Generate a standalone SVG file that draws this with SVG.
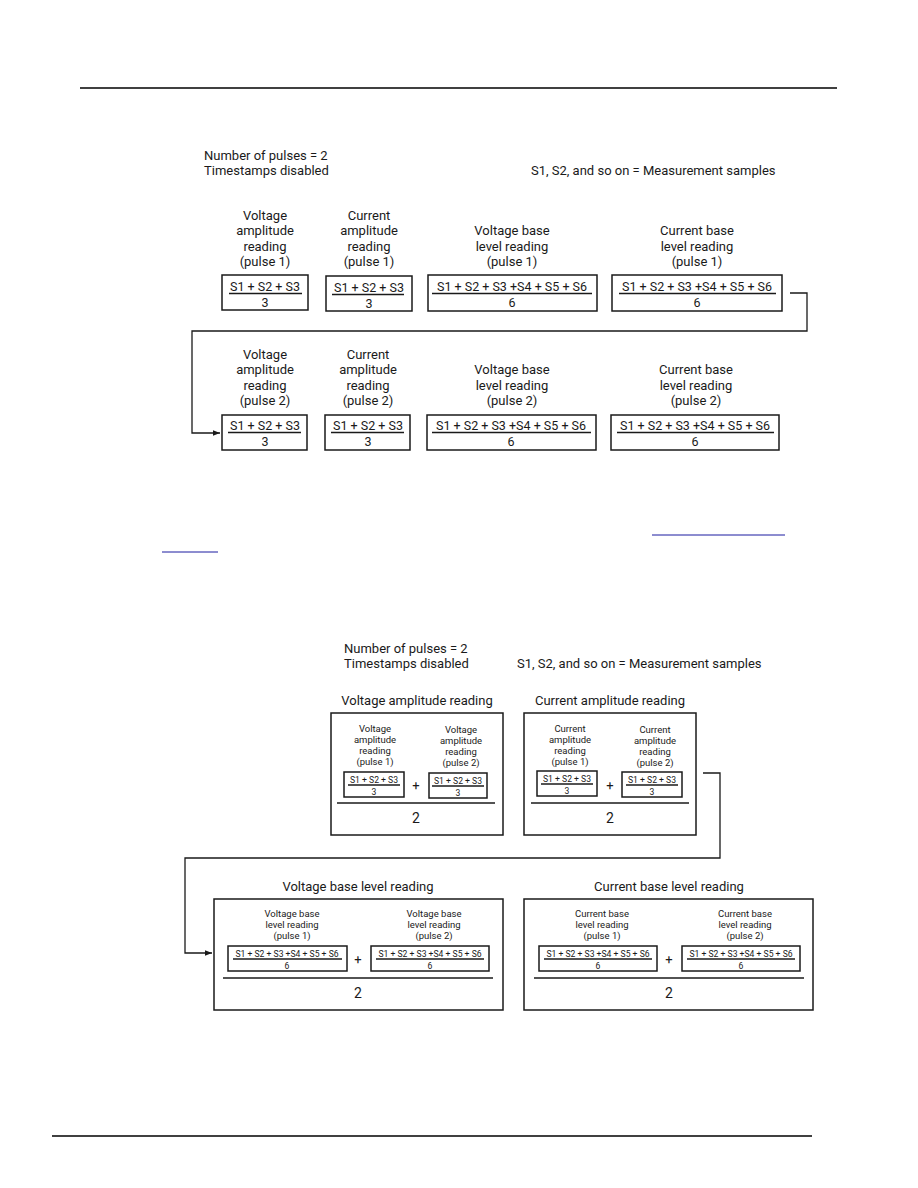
<svg xmlns="http://www.w3.org/2000/svg" width="918" height="1188" viewBox="0 0 918 1188">
<style>
text{font-family:Roboto,"Liberation Sans",sans-serif;fill:#1a1a1a;text-anchor:middle}
.l{font-size:13px}
.s{text-anchor:start}
.f{font-size:12.5px}
.sm{font-size:9.5px}
.fs{font-size:8.6px}
.big{font-size:14px}
.box{fill:none;stroke:#1a1a1a;stroke-width:1.5}
.fl{stroke:#1a1a1a;stroke-width:1.3}
.wire{fill:none;stroke:#1a1a1a;stroke-width:1.3}
</style>
<defs>
<marker id="ah" viewBox="0 0 10 10" refX="10" refY="5" markerWidth="7" markerHeight="7" markerUnits="userSpaceOnUse" orient="auto">
<path d="M0,1 L10,5 L0,9 z" fill="#1a1a1a"/>
</marker>
</defs>
<line x1="80" y1="88" x2="837" y2="88" stroke="#000" stroke-width="1.5"/>
<line x1="52" y1="1136" x2="812" y2="1136" stroke="#000" stroke-width="1.5"/>
<line x1="652" y1="535" x2="785" y2="535" stroke="#1a1aa0" stroke-width="1"/>
<line x1="162" y1="552" x2="218" y2="552" stroke="#1a1aa0" stroke-width="1"/>

<g id="top-notes">
<text class="l s" x="204" y="160">Number of pulses = 2</text>
<text class="l s" x="204" y="175">Timestamps disabled</text>
<text class="l s" x="531" y="175">S1, S2, and so on = Measurement samples</text>
</g>

<g id="v-amp-p1">
<text class="l" x="265" y="220">Voltage</text>
<text class="l" x="265" y="235">amplitude</text>
<text class="l" x="265" y="251">reading</text>
<text class="l" x="265" y="266">(pulse 1)</text>
<rect class="box" x="222" y="275" width="86" height="35"/>
<text class="f" x="265" y="291">S1 + S2 + S3</text>
<line class="fl" x1="229" y1="293.5" x2="302" y2="293.5"/>
<text class="f" x="265" y="307">3</text>
</g>
<g id="c-amp-p1">
<text class="l" x="369" y="220">Current</text>
<text class="l" x="369" y="235">amplitude</text>
<text class="l" x="369" y="251">reading</text>
<text class="l" x="369" y="266">(pulse 1)</text>
<rect class="box" x="326" y="276" width="86" height="35"/>
<text class="f" x="369" y="292">S1 + S2 + S3</text>
<line class="fl" x1="332" y1="294.5" x2="404" y2="294.5"/>
<text class="f" x="369" y="308">3</text>
</g>
<g id="v-base-p1">
<text class="l" x="512" y="235">Voltage base</text>
<text class="l" x="512" y="251">level reading</text>
<text class="l" x="512" y="266">(pulse 1)</text>
<rect class="box" x="428" y="275" width="169" height="36"/>
<text class="f" x="512" y="291">S1 + S2 + S3 +S4 + S5 + S6</text>
<line class="fl" x1="432" y1="293.5" x2="592" y2="293.5"/>
<text class="f" x="512" y="307">6</text>
</g>
<g id="c-base-p1">
<text class="l" x="697" y="235">Current base</text>
<text class="l" x="697" y="251">level reading</text>
<text class="l" x="697" y="266">(pulse 1)</text>
<rect class="box" x="612" y="275" width="170" height="36"/>
<text class="f" x="697" y="291">S1 + S2 + S3 +S4 + S5 + S6</text>
<line class="fl" x1="619" y1="293.5" x2="776" y2="293.5"/>
<text class="f" x="697" y="307">6</text>
</g>

<g id="v-amp-p2">
<text class="l" x="265" y="359">Voltage</text>
<text class="l" x="265" y="374">amplitude</text>
<text class="l" x="265" y="390">reading</text>
<text class="l" x="265" y="405">(pulse 2)</text>
<rect class="box" x="222" y="415" width="85" height="35"/>
<text class="f" x="265" y="430">S1 + S2 + S3</text>
<line class="fl" x1="228" y1="432.5" x2="301" y2="432.5"/>
<text class="f" x="265" y="446">3</text>
</g>
<g id="c-amp-p2">
<text class="l" x="368" y="359">Current</text>
<text class="l" x="368" y="374">amplitude</text>
<text class="l" x="368" y="390">reading</text>
<text class="l" x="368" y="405">(pulse 2)</text>
<rect class="box" x="325" y="415" width="85" height="35"/>
<text class="f" x="368" y="430">S1 + S2 + S3</text>
<line class="fl" x1="331" y1="432.5" x2="404" y2="432.5"/>
<text class="f" x="368" y="446">3</text>
</g>
<g id="v-base-p2">
<text class="l" x="512" y="374">Voltage base</text>
<text class="l" x="512" y="390">level reading</text>
<text class="l" x="512" y="405">(pulse 2)</text>
<rect class="box" x="427" y="415" width="169" height="35"/>
<text class="f" x="511" y="430">S1 + S2 + S3 +S4 + S5 + S6</text>
<line class="fl" x1="432" y1="432.5" x2="591" y2="432.5"/>
<text class="f" x="511" y="446">6</text>
</g>
<g id="c-base-p2">
<text class="l" x="696" y="374">Current base</text>
<text class="l" x="696" y="390">level reading</text>
<text class="l" x="696" y="405">(pulse 2)</text>
<rect class="box" x="611" y="415" width="168" height="35"/>
<text class="f" x="695" y="430">S1 + S2 + S3 +S4 + S5 + S6</text>
<line class="fl" x1="617" y1="432.5" x2="774" y2="432.5"/>
<text class="f" x="695" y="446">6</text>
</g>

<g id="bottom-notes">
<text class="l s" x="344" y="653">Number of pulses = 2</text>
<text class="l s" x="344" y="668">Timestamps disabled</text>
<text class="l s" x="517" y="668">S1, S2, and so on = Measurement samples</text>
</g>

<g id="v-amp-avg">
<text class="l" x="417" y="705">Voltage amplitude reading</text>
<rect class="box" x="331" y="713" width="172" height="122"/>
<text class="sm" x="375" y="732">Voltage</text>
<text class="sm" x="375" y="743">amplitude</text>
<text class="sm" x="375" y="754">reading</text>
<text class="sm" x="375" y="765">(pulse 1)</text>
<rect class="box" x="344" y="772" width="60" height="25"/>
<text class="fs" x="374" y="783">S1 + S2 + S3</text>
<line class="fl" x1="348" y1="785" x2="400" y2="785" stroke-width="1"/>
<text class="fs" x="374" y="795">3</text>
<text class="l" x="416" y="790">+</text>
<text class="sm" x="461" y="733">Voltage</text>
<text class="sm" x="461" y="744">amplitude</text>
<text class="sm" x="461" y="755">reading</text>
<text class="sm" x="461" y="766">(pulse 2)</text>
<rect class="box" x="429" y="773" width="58" height="25"/>
<text class="fs" x="458" y="784">S1 + S2 + S3</text>
<line class="fl" x1="432" y1="786" x2="484" y2="786" stroke-width="1"/>
<text class="fs" x="458" y="796">3</text>
<line class="fl" x1="337" y1="803" x2="495" y2="803"/>
<text class="big" x="416" y="823">2</text>
</g>

<g id="c-amp-avg">
<text class="l" x="610" y="705">Current amplitude reading</text>
<rect class="box" x="524" y="713" width="172" height="122"/>
<text class="sm" x="570" y="732">Current</text>
<text class="sm" x="570" y="743">amplitude</text>
<text class="sm" x="570" y="754">reading</text>
<text class="sm" x="570" y="765">(pulse 1)</text>
<rect class="box" x="537" y="771" width="60" height="25"/>
<text class="fs" x="567" y="782">S1 + S2 + S3</text>
<line class="fl" x1="541" y1="784" x2="593" y2="784" stroke-width="1"/>
<text class="fs" x="567" y="794">3</text>
<text class="l" x="610" y="790">+</text>
<text class="sm" x="655" y="733">Current</text>
<text class="sm" x="655" y="744">amplitude</text>
<text class="sm" x="655" y="755">reading</text>
<text class="sm" x="655" y="766">(pulse 2)</text>
<rect class="box" x="622" y="772" width="60" height="25"/>
<text class="fs" x="652" y="783">S1 + S2 + S3</text>
<line class="fl" x1="626" y1="785" x2="678" y2="785" stroke-width="1"/>
<text class="fs" x="652" y="795">3</text>
<line class="fl" x1="531" y1="803" x2="689" y2="803"/>
<text class="big" x="610" y="823">2</text>
</g>

<g id="v-base-avg">
<text class="l" x="358" y="891">Voltage base level reading</text>
<rect class="box" x="214" y="899" width="289" height="111"/>
<text class="sm" x="292" y="917">Voltage base</text>
<text class="sm" x="292" y="928">level reading</text>
<text class="sm" x="292" y="939">(pulse 1)</text>
<rect class="box" x="228" y="946" width="119" height="25"/>
<text class="fs" x="287" y="957">S1 + S2 + S3 +S4 + S5 + S6</text>
<line class="fl" x1="233" y1="959" x2="342" y2="959" stroke-width="1"/>
<text class="fs" x="287" y="969">6</text>
<text class="l" x="358" y="964">+</text>
<text class="sm" x="434" y="917">Voltage base</text>
<text class="sm" x="434" y="928">level reading</text>
<text class="sm" x="434" y="939">(pulse 2)</text>
<rect class="box" x="371" y="946" width="118" height="25"/>
<text class="fs" x="430" y="957">S1 + S2 + S3 +S4 + S5 + S6</text>
<line class="fl" x1="376" y1="959" x2="484" y2="959" stroke-width="1"/>
<text class="fs" x="430" y="969">6</text>
<line class="fl" x1="223" y1="978" x2="493" y2="978"/>
<text class="big" x="358" y="998">2</text>
</g>

<g id="c-base-avg">
<text class="l" x="669" y="891">Current base level reading</text>
<rect class="box" x="524" y="899" width="289" height="111"/>
<text class="sm" x="602" y="917">Current base</text>
<text class="sm" x="602" y="928">level reading</text>
<text class="sm" x="602" y="939">(pulse 1)</text>
<rect class="box" x="539" y="946" width="118" height="25"/>
<text class="fs" x="598" y="957">S1 + S2 + S3 +S4 + S5 + S6</text>
<line class="fl" x1="544" y1="959" x2="652" y2="959" stroke-width="1"/>
<text class="fs" x="598" y="969">6</text>
<text class="l" x="669" y="964">+</text>
<text class="sm" x="745" y="917">Current base</text>
<text class="sm" x="745" y="928">level reading</text>
<text class="sm" x="745" y="939">(pulse 2)</text>
<rect class="box" x="682" y="946" width="118" height="25"/>
<text class="fs" x="741" y="957">S1 + S2 + S3 +S4 + S5 + S6</text>
<line class="fl" x1="687" y1="959" x2="795" y2="959" stroke-width="1"/>
<text class="fs" x="741" y="969">6</text>
<line class="fl" x1="534" y1="978" x2="804" y2="978"/>
<text class="big" x="669" y="998">2</text>
</g>

<g id="connectors">
<path class="wire" d="M790,293 H807 V331 H192 V433 H220" marker-end="url(#ah)"/>
<path class="wire" d="M703,773 H720 V858 H185 V953 H212" marker-end="url(#ah)"/>
</g>
</svg>
